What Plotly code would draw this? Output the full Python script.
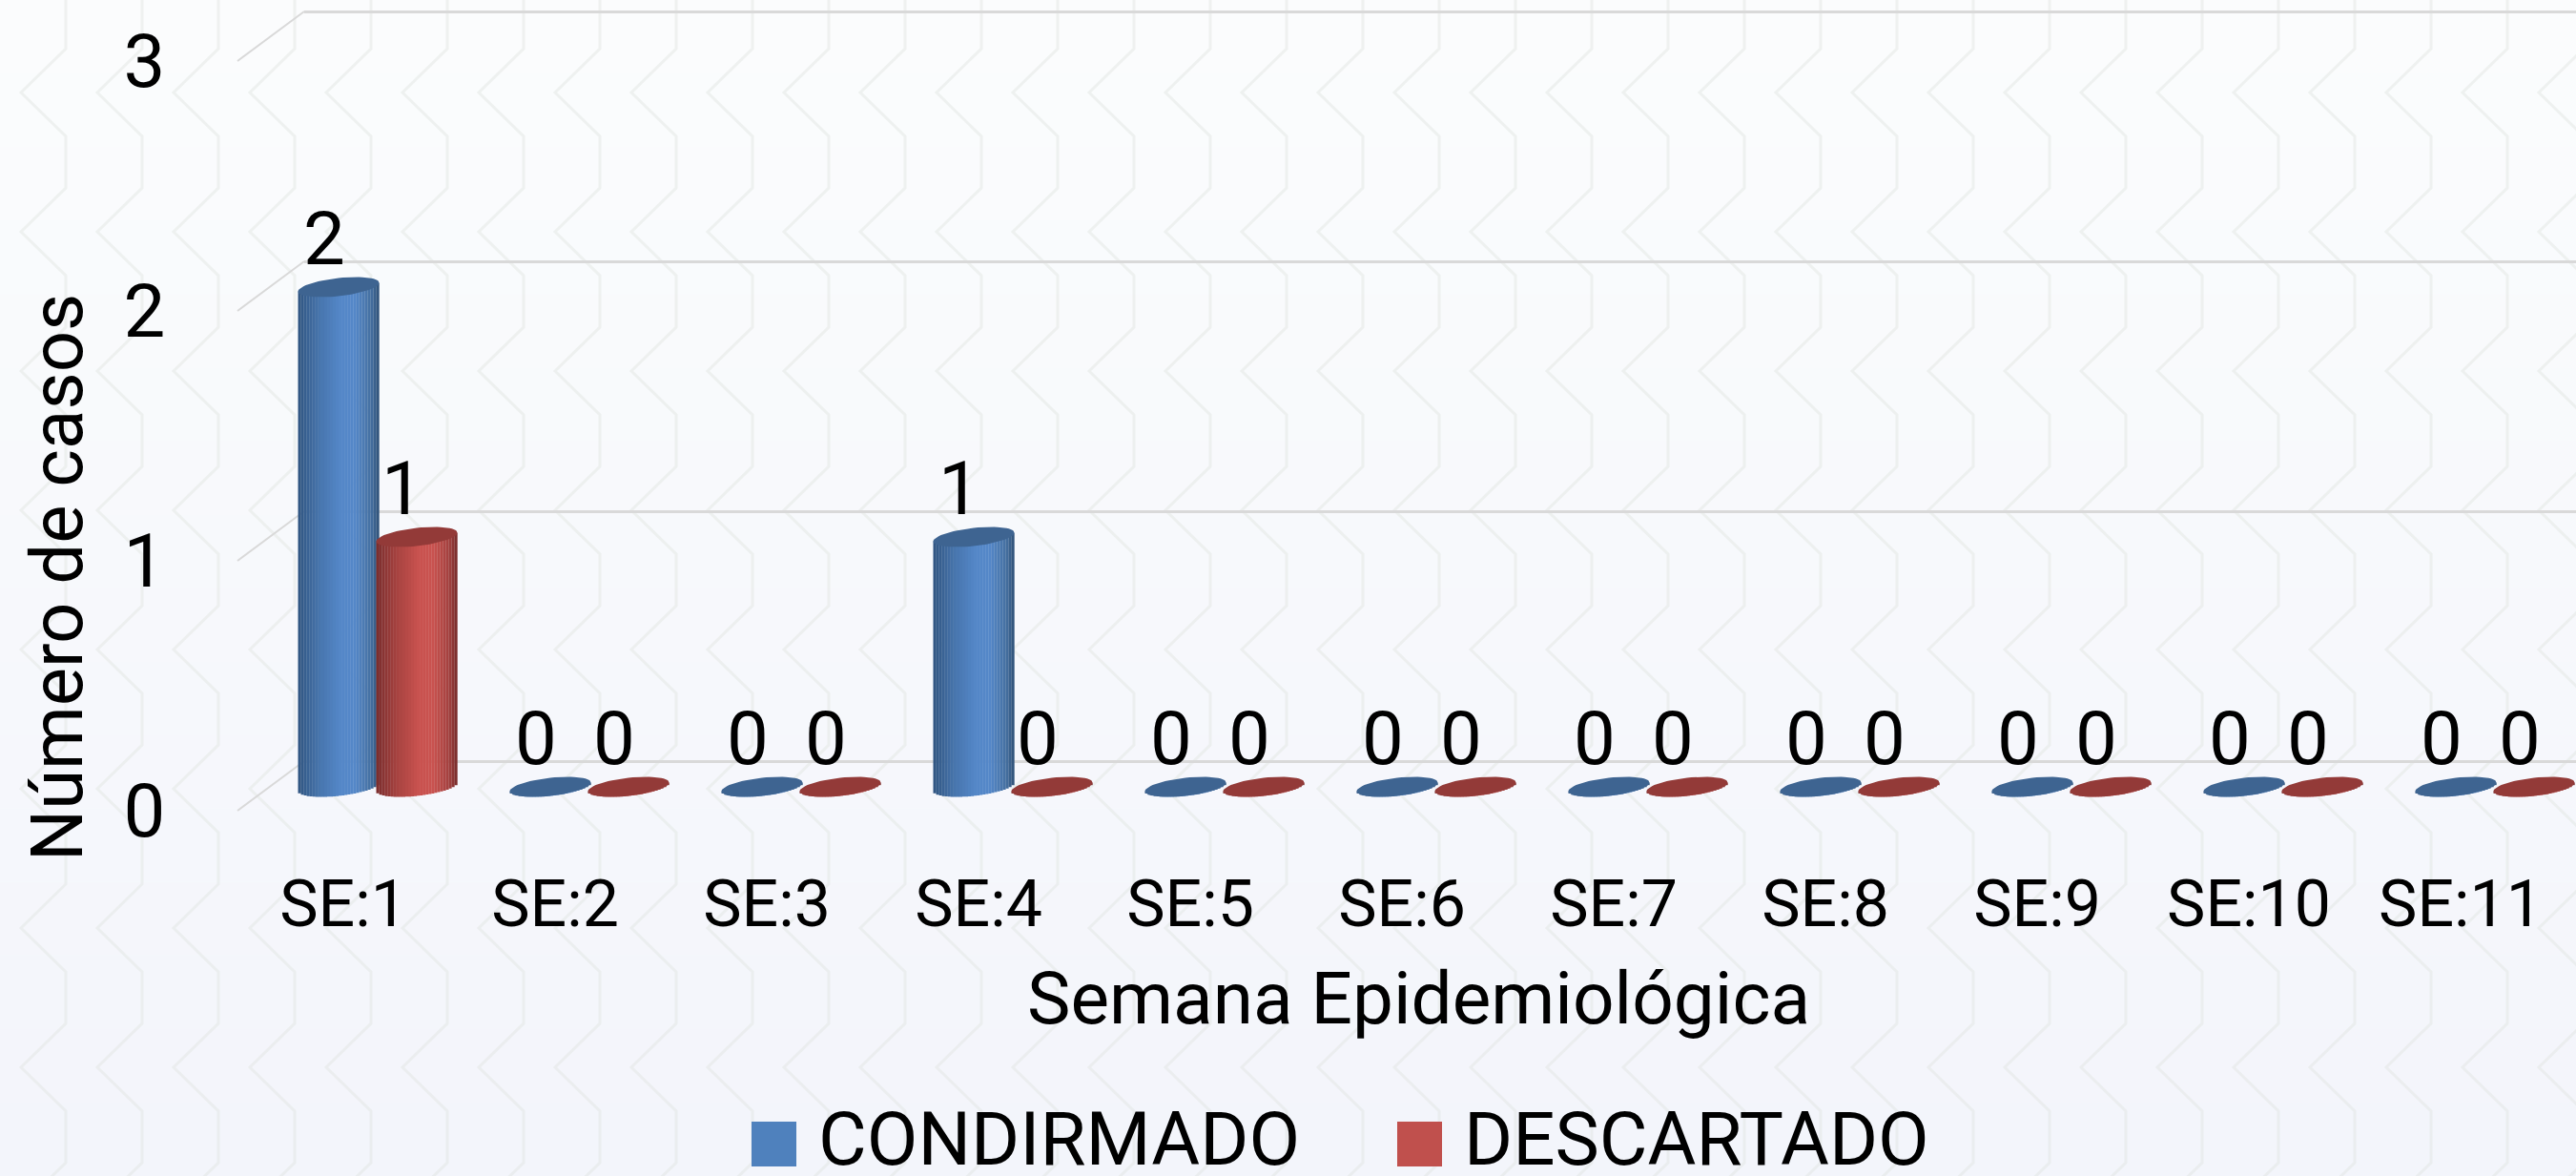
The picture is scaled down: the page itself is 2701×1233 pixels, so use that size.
import plotly.graph_objects as go
import numpy as np

# ---------- data ----------
semanas = ["SE:1", "SE:2", "SE:3", "SE:4", "SE:5", "SE:6", "SE:7", "SE:8", "SE:9", "SE:10", "SE:11"]
confirmado = [2, 0, 0, 1, 0, 0, 0, 0, 0, 0, 0]
descartado = [1, 0, 0, 0, 0, 0, 0, 0, 0, 0, 0]
y_ticks = [0, 1, 2, 3]
nombre_a = "CONDIRMADO"
nombre_b = "DESCARTADO"
titulo_x = "Semana Epidemiológica"
titulo_y = "Número de casos"

# ---------- geometry ----------
W, H = 2701, 1233
FONT = "Roboto"
STEP_X, STEP_Y = 222.0, 262.0
def fx(px): return px / W
def fy(px): return 1 - px / H

# x position where category band 0 starts, y pixel of value 0
BACK = dict(x=319, y0=798)
FRONT = dict(x=249, y0=850)
BARS = dict(x=285, y0=825)
Y_BOTTOM_EXT = 0.45   # room under zero for the round cylinder feet
BACK_LOW, BACK_HIGH = -0.05, 3.03   # slack so the first and last gridlines are drawn

def xrange_for(left): return [-0.5, (W - left) / STEP_X - 0.5]

layout_shapes = []
# background: soft vertical gradient bands
top, bot = np.array([251, 252, 253]), np.array([243, 245, 251])
BANDS = 16
for b in range(BANDS):
    c = top + (bot - top) * b / (BANDS - 1)
    layout_shapes.append(dict(type="rect", xref="paper", yref="paper", layer="below",
                              x0=0, x1=1, y0=fy((b + 1) * H / BANDS), y1=fy(b * H / BANDS),
                              line=dict(width=0), fillcolor=f"rgb({c[0]:.0f},{c[1]:.0f},{c[2]:.0f})"))
# background: chevron watermark
parts = []
for col in range(-1, 36):
    tip = 22 + 80 * col
    d = []
    for row in range(-1, 10):
        ty = 97 + 146 * row
        d.append((tip + 47, ty - 46))
        d.append((tip, ty))
        d.append((tip + 47, ty + 46))
    parts.append("M" + " L".join(f"{fx(a):.5f},{fy(b):.5f}" for a, b in d))
layout_shapes.append(dict(type="path", xref="paper", yref="paper", layer="below",
                          path=" ".join(parts), line=dict(color="rgba(224,228,224,0.45)", width=3)))
# side-wall diagonals joining the front ticks to the back gridlines
for v in y_ticks:
    layout_shapes.append(dict(type="line", xref="paper", yref="paper", layer="below",
                              x0=fx(FRONT["x"]), y0=fy(FRONT["y0"] - v * STEP_Y),
                              x1=fx(BACK["x"]), y1=fy(BACK["y0"] - v * STEP_Y),
                              line=dict(color="#d9d9d9", width=2)))

# ---------- cylinders ----------
HALF_W = 42.5 / STEP_X
SERIES_OFF = 41 / STEP_X
TILT = 4.5 / STEP_Y
THICK = 9.5 / STEP_Y
NSLICES = 28
us = np.linspace(-1, 1, NSLICES + 1)
uc = (us[:-1] + us[1:]) / 2
sw = 2 * HALF_W / NSLICES

def ramp(stops, u):
    pos = [s[0] for s in stops]
    return "rgb(" + ",".join(f"{np.interp(u, pos, [s[1][i] for s in stops]):.0f}" for i in range(3)) + ")"

blue_stops = [(-1, (47, 84, 128)), (-0.45, (72, 118, 174)), (0.05, (84, 135, 200)), (0.4, (84, 135, 200)),
              (0.8, (68, 111, 160)), (1, (47, 81, 119))]
red_stops = [(-1, (122, 45, 44)), (-0.45, (169, 68, 65)), (0.05, (201, 82, 79)), (0.4, (201, 82, 79)),
             (0.8, (162, 64, 62)), (1, (117, 43, 42))]

fig = go.Figure()
xi = np.arange(len(semanas))

# back wall subplot (gridlines)
fig.add_trace(go.Scatter(x=xi, y=confirmado, mode="none", xaxis="x", yaxis="y",
                         showlegend=False, hoverinfo="skip"))
# front subplot (tick labels)
fig.add_trace(go.Scatter(x=xi, y=confirmado, mode="none", xaxis="x2", yaxis="y2",
                         showlegend=False, hoverinfo="skip"))

def add_series(name, values, shift, stops, cap_color):
    vals = np.array(values, float)
    for k, u in enumerate(uc):
        base = TILT * u - THICK * np.sqrt(1 - u * u)
        top_off = TILT * u
        fig.add_trace(go.Bar(x=xi + shift, y=vals + top_off - base, base=[base] * len(xi),
                             width=sw * 1.06, offset=HALF_W * u - sw / 2,
                             marker=dict(color=ramp(stops, u), line=dict(width=0)),
                             xaxis="x3", yaxis="y3", showlegend=False, hoverinfo="skip", name=name))
    # elliptical caps, one closed outline per value
    t = np.linspace(0, 2 * np.pi, 61)
    ex, ey = [], []
    for i, v in enumerate(vals):
        ex += list(i + shift + HALF_W * np.cos(t)) + [None]
        ey += list(v + TILT * np.cos(t) + THICK * np.sin(t)) + [None]
    fig.add_trace(go.Scatter(x=ex, y=ey, mode="lines", fill="toself", fillcolor=cap_color,
                             line=dict(width=0, color=cap_color), xaxis="x3", yaxis="y3",
                             showlegend=False, name=name, hoverinfo="skip"))
    fig.add_trace(go.Scatter(x=xi + shift - 15 / STEP_X, y=vals + 43 / STEP_Y, mode="text",
                             text=[str(v) for v in values], textposition="middle center",
                             textfont=dict(family=FONT, size=78, color="#000000"),
                             xaxis="x3", yaxis="y3", showlegend=False, name=name, hoverinfo="skip"))

add_series(nombre_a, confirmado, -SERIES_OFF, blue_stops, "#3e6491")
add_series(nombre_b, descartado, SERIES_OFF, red_stops, "#933a38")

# ---------- legend (square keys drawn to size) ----------
annotations = []
for key_x, txt_x, color, label in [(788, 856, "#4f81bd", nombre_a), (1465, 1533, "#c0504d", nombre_b)]:
    layout_shapes.append(dict(type="rect", xref="paper", yref="paper", layer="above",
                              x0=fx(key_x), x1=fx(key_x + 47), y0=fy(1223), y1=fy(1176),
                              line=dict(width=0), fillcolor=color))
    annotations.append(dict(text=label, xref="paper", yref="paper", x=fx(txt_x), y=fy(1194),
                            xanchor="left", yanchor="middle", showarrow=False,
                            font=dict(family=FONT, size=78, color="#000000")))
annotations.append(dict(text=titulo_x, xref="paper", yref="paper", x=fx(1487), y=fy(1047),
                        xanchor="center", yanchor="middle", showarrow=False,
                        font=dict(family=FONT, size=76.5, color="#000000")))
annotations.append(dict(text=titulo_y, xref="paper", yref="paper", x=fx(60), y=fy(606), textangle=-90,
                        xanchor="center", yanchor="middle", showarrow=False,
                        font=dict(family=FONT, size=76, color="#000000")))

hidden = dict(showline=False, zeroline=False, showgrid=False, showticklabels=False, ticks="", automargin=False)
fig.update_layout(
    template="none",
    width=W, height=H, margin=dict(l=0, r=0, t=0, b=0, pad=0), autosize=False,
    paper_bgcolor="#f8f9fc", plot_bgcolor="rgba(0,0,0,0)",
    barmode="overlay", showlegend=False, shapes=layout_shapes, annotations=annotations,
    # back wall
    xaxis=dict(domain=[fx(BACK["x"]), 1], range=xrange_for(BACK["x"]), anchor="y", **hidden),
    yaxis=dict(domain=[fy(BACK["y0"] - BACK_LOW * STEP_Y), fy(BACK["y0"] - BACK_HIGH * STEP_Y)],
               range=[BACK_LOW, BACK_HIGH], anchor="x",
               tickvals=y_ticks, showgrid=True, gridcolor="#d9d9d9", gridwidth=2.5, automargin=False,
               zeroline=False, showline=False, showticklabels=False, ticks=""),
    # front ticks
    xaxis2=dict(domain=[fx(FRONT["x"]), 1], range=xrange_for(FRONT["x"]), anchor="y2", automargin=False,
                tickvals=list(xi), ticktext=semanas, showgrid=False, zeroline=False, showline=False,
                ticks="outside", ticklen=38, tickcolor="rgba(0,0,0,0)",
                tickfont=dict(family=FONT, size=68, color="#000000")),
    yaxis2=dict(domain=[fy(FRONT["y0"]), fy(FRONT["y0"] - 3 * STEP_Y)], range=[0, 3], anchor="x2", automargin=False,
                tickvals=y_ticks, showgrid=False, zeroline=False, showline=False,
                ticks="outside", ticklen=59, tickcolor="rgba(0,0,0,0)",
                tickfont=dict(family=FONT, size=78, color="#000000")),
    # cylinders
    xaxis3=dict(domain=[fx(BARS["x"]), 1], range=xrange_for(BARS["x"]), anchor="y3", **hidden),
    yaxis3=dict(domain=[fy(BARS["y0"] + Y_BOTTOM_EXT * STEP_Y), fy(BARS["y0"] - 3.05 * STEP_Y)],
                range=[-Y_BOTTOM_EXT, 3.05], anchor="x3", **hidden),
)

fig.write_html("out.html", config={"displayModeBar": False},
               post_script="document.body.style.margin='0';document.body.style.overflow='hidden';")
